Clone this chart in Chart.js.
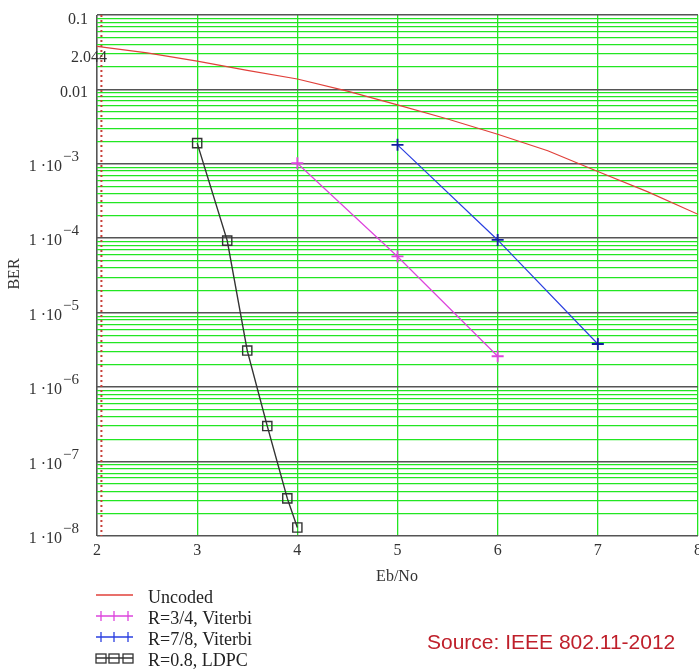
<!DOCTYPE html>
<html>
<head>
<meta charset="utf-8">
<script src="https://cdn.jsdelivr.net/npm/chart.js@4.4.0/dist/chart.umd.min.js"></script>
<style>
  html, body { margin: 0; padding: 0; background: #ffffff; }
  #wrap { width: 699px; height: 671px; position: relative; }
</style>
</head>
<body>
<div id="wrap"><canvas id="c" width="699" height="671"></canvas></div>
<script>
// ---- Data ----
const ebno = [2, 2.5, 3, 3.5, 4, 4.5, 5, 5.5, 6, 6.5, 7, 7.5, 8];
const uncoded = [0.038, 0.031, 0.024, 0.018, 0.0138, 0.0095, 0.0062, 0.0040, 0.0025, 0.0015, 0.00079, 0.00042, 0.00021];

const viterbi34X = [4, 5, 6];
const viterbi34 = [1.02e-3, 5.7e-5, 2.6e-6];

const viterbi78X = [5, 6, 7];
const viterbi78 = [1.8e-3, 9.5e-5, 3.8e-6];

const ldpcX = [3.0, 3.3, 3.5, 3.7, 3.9, 4.0];
const ldpc = [1.9e-3, 9.3e-5, 3.1e-6, 3.0e-7, 3.2e-8, 1.3e-8];

const markerX = 2.044;
const markerLabel = "2.044";
const markerLabelY = 0.0265;

const xTicks = [2, 3, 4, 5, 6, 7, 8];
const yDecades = [-1, -2, -3, -4, -5, -6, -7, -8];
const yTickLabels = ["0.1", "0.01", "1 ·10|−3", "1 ·10|−4", "1 ·10|−5", "1 ·10|−6", "1 ·10|−7", "1 ·10|−8"];

const seriesNames = ["Uncoded", "R=3/4, Viterbi", "R=7/8, Viterbi", "R=0.8, LDPC"];
const xTitle = "Eb/No";
const yTitle = "BER";
const sourceText = "Source: IEEE 802.11-2012";

// ---- styles ----
const C_RED = '#e0403a';
const C_MAG = '#dd44dd';
const C_BLUE = '#2a3fe0';
const C_BLACK = '#333333';
const SERIF = '"Liberation Serif", "Times New Roman", serif';

const pts = (xs, ys) => xs.map((x, i) => ({ x: x, y: ys[i] }));

function isDecade(v) {
  const l = Math.log10(v);
  return Math.abs(l - Math.round(l)) < 1e-9;
}

const labelsPlugin = {
  id: 'labelsPlugin',
  afterDraw(chart) {
    const ctx = chart.ctx;
    const xs = chart.scales.x, ys = chart.scales.y;
    ctx.save();
    ctx.fillStyle = '#333';
    // x tick labels
    ctx.font = '16px ' + SERIF;
    ctx.textAlign = 'center';
    ctx.textBaseline = 'middle';
    xTicks.forEach(v => ctx.fillText(String(v), xs.getPixelForValue(v), 551));
    // y tick labels
    yDecades.forEach((e, i) => {
      const py = ys.getPixelForValue(Math.pow(10, e));
      const lab = yTickLabels[i];
      if (lab.indexOf('|') < 0) {
        ctx.font = '16px ' + SERIF;
        ctx.textAlign = 'right';
        ctx.textBaseline = 'middle';
        ctx.fillText(lab, 88, py + (i === 0 ? 5 : 3));
      } else {
        const parts = lab.split('|');
        ctx.font = '16px ' + SERIF;
        ctx.textAlign = 'right';
        ctx.textBaseline = 'middle';
        ctx.fillText(parts[0], 62, py + 3);
        ctx.font = '15px ' + SERIF;
        ctx.textAlign = 'left';
        ctx.fillText(parts[1], 63, py - 7);
      }
    });
    // marker value label
    ctx.font = '16px ' + SERIF;
    ctx.textAlign = 'right';
    ctx.textBaseline = 'middle';
    ctx.fillText(markerLabel, 107, ys.getPixelForValue(markerLabelY));
    // axis titles
    ctx.textAlign = 'center';
    ctx.fillText(xTitle, 397, 577);
    ctx.save();
    ctx.translate(15, 274);
    ctx.rotate(-Math.PI / 2);
    ctx.fillText(yTitle, 0, 0);
    ctx.restore();

    // legend
    const rows = [597, 618, 639, 660];
    const colors = [C_RED, C_MAG, C_BLUE, C_BLACK];
    const mx = [101, 114, 128];
    rows.forEach((ry, i) => {
      ctx.strokeStyle = colors[i];
      ctx.lineWidth = 1.3;
      ctx.beginPath();
      ctx.moveTo(96, ry - 2); ctx.lineTo(133, ry - 2);
      ctx.stroke();
      if (i === 1 || i === 2) {
        mx.forEach(x => {
          ctx.beginPath();
          ctx.moveTo(x, ry - 7); ctx.lineTo(x, ry + 3);
          ctx.stroke();
        });
      } else if (i === 3) {
        mx.forEach(x => {
          ctx.strokeRect(x - 5, ry - 6, 10, 9);
        });
      }
      ctx.fillStyle = '#222';
      ctx.font = '18px ' + SERIF;
      ctx.textAlign = 'left';
      ctx.textBaseline = 'middle';
      ctx.fillText(seriesNames[i], 148, ry + 1);
    });

    // source
    ctx.fillStyle = '#bf1f2a';
    ctx.font = '21px "Liberation Sans", Arial, sans-serif';
    ctx.textAlign = 'left';
    ctx.textBaseline = 'middle';
    ctx.fillText(sourceText, 427, 643);
    ctx.restore();
  }
};

new Chart(document.getElementById('c'), {
  type: 'line',
  data: {
    datasets: [
      {
        label: 'marker',
        data: [{ x: markerX, y: 0.1 }, { x: markerX, y: 1e-8 }],
        borderColor: '#c8403a',
        borderWidth: 2,
        borderDash: [2, 3],
        pointRadius: 0
      },
      {
        label: seriesNames[0],
        data: pts(ebno, uncoded),
        borderColor: C_RED,
        borderWidth: 1.2,
        pointRadius: 0
      },
      {
        label: seriesNames[1],
        data: pts(viterbi34X, viterbi34),
        borderColor: C_MAG,
        borderWidth: 1.2,
        pointStyle: 'cross',
        pointRadius: 6,
        pointBorderWidth: 1.8,
        pointBorderColor: C_MAG
      },
      {
        label: seriesNames[2],
        data: pts(viterbi78X, viterbi78),
        borderColor: C_BLUE,
        borderWidth: 1.2,
        pointStyle: 'cross',
        pointRadius: 6,
        pointBorderWidth: 1.8,
        pointBorderColor: '#1020a0'
      },
      {
        label: seriesNames[3],
        data: pts(ldpcX, ldpc),
        borderColor: C_BLACK,
        borderWidth: 1.4,
        pointStyle: 'rect',
        pointRadius: 6.5,
        pointBorderWidth: 1.4,
        pointBorderColor: '#333',
        pointBackgroundColor: 'rgba(0,0,0,0)'
      }
    ]
  },
  options: {
    responsive: false,
    animation: false,
    layout: { autoPadding: false, padding: { left: 97, right: 1, top: 15, bottom: 135 } },
    plugins: { legend: { display: false }, tooltip: { enabled: false } },
    elements: { line: { tension: 0 } },
    scales: {
      x: {
        type: 'linear',
        min: 2, max: 8,
        ticks: { display: false, stepSize: 1 },
        border: { display: false },
        grid: {
          drawTicks: false,
          color: c => (c.tick && c.tick.value === 2) ? '#555555' : '#22e622',
          lineWidth: c => (c.tick && c.tick.value === 2) ? 1.6 : 1.3
        },
        afterFit: s => { s.height = 0; }
      },
      y: {
        type: 'logarithmic',
        min: 1e-8, max: 0.1,
        ticks: { display: false },
        border: { display: false },
        grid: {
          drawTicks: false,
          color: c => (c.tick && isDecade(c.tick.value)) ? '#555555' : '#22e622',
          lineWidth: c => (c.tick && isDecade(c.tick.value)) ? 1.6 : 1.2
        },
        afterBuildTicks: s => {
          const t = [];
          for (let e = -8; e <= -1; e++) {
            for (let m = 1; m <= 9; m++) {
              const v = m * Math.pow(10, e);
              if (v <= 0.1 * 1.0000001) t.push({ value: v });
            }
          }
          s.ticks = t;
        },
        afterFit: s => { s.width = 0; }
      }
    }
  },
  plugins: [labelsPlugin]
});
</script>
</body>
</html>
